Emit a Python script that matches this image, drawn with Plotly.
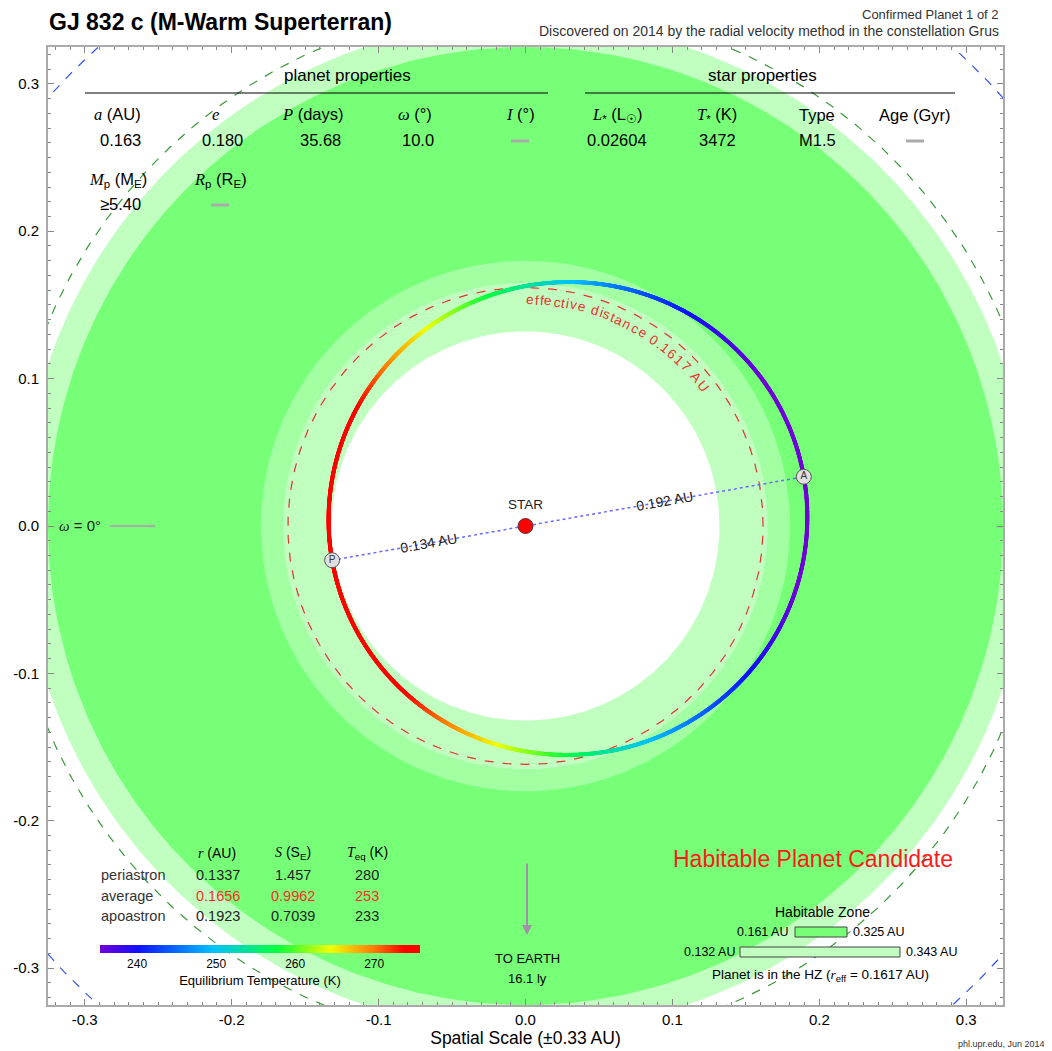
import numpy as np
import plotly.graph_objects as go

# ---------------- data ----------------
title_text = "GJ 832 c (M-Warm Superterran)"
subtitle_lines = ["Confirmed Planet 1 of 2",
                  "Discovered on 2014 by the radial velocity method in the constellation Grus"]
semi_major_au = 0.163
eccentricity = 0.180
period_days = 35.68
omega_deg = 10.0
planet_mass_min = 5.40
star_lum = 0.02604
star_teff = 3472
star_type = "M1.5"
hz_cons = [0.161, 0.325]
hz_opt = [0.132, 0.343]
hz_mid_ring = [0.165, 0.180]
r_effective = 0.1617
ring_green_dashed = 0.353
ring_blue_dashed = 0.436
earth_distance_ly = 16.1
teq_periastron = 280
row_names = ["periastron", "average", "apoastron"]
row_r = ["0.1337", "0.1656", "0.1923"]
row_S = ["1.457", "0.9962", "0.7039"]
row_T = ["280", "253", "233"]
cbar_min, cbar_max = 235.3, 275.8
cbar_ticks = [240, 250, 260, 270]
axis_ticks = [-0.3, -0.2, -0.1, 0.0, 0.1, 0.2, 0.3]
axis_ticklabels = ["-0.3", "-0.2", "-0.1", "0.0", "0.1", "0.2", "0.3"]
axis_range = [-0.325, 0.325]

# ---------------- styling ----------------
FONT = "Liberation Sans, Arial, sans-serif"
BRIGHT = "#78FF78"
MID = "#A2FFA2"
LIGHT = "#C0FFC0"
OFF = 8                      # page body margin
X0, X1, Y0, Y1 = 48, 1003, 47, 1005   # plot box in screen pixels
W, H = 1052 - OFF, 1051 - OFF
ML, MT = X0 - OFF, Y0 - OFF
MR, MB = W - (X1 - OFF), H - (Y1 - OFF)
PW, PH = X1 - X0, Y1 - Y0


def pp(px, py):
    return (px - X0) / PW, (Y1 - py) / PH


def ann(text, px, py, size=13, color="black", xanchor="center", **kw):
    x, y = pp(px, py)
    return dict(text=text, x=x, y=y, xref="paper", yref="paper", showarrow=False,
                xanchor=xanchor, yanchor="middle",
                font=dict(size=size, color=color, family=FONT), **kw)


def circle(r, n=500):
    t = np.linspace(0, 2 * np.pi, n)
    return r * np.cos(t), r * np.sin(t)


def it(s):
    return "<span style='font-family:Liberation Serif'><i>%s</i></span>" % s


fig = go.Figure()

# habitable zone disks (layered)
for r, col in [(hz_opt[1], LIGHT), (hz_cons[1], BRIGHT), (hz_mid_ring[1], MID),
               (hz_mid_ring[0], LIGHT), (hz_opt[0], "white")]:
    cx, cy = circle(r)
    fig.add_trace(go.Scatter(x=cx, y=cy, mode="lines", fill="toself", fillcolor=col,
                             line=dict(width=0), hoverinfo="skip", showlegend=False))

# dashed reference circles
for r, col in [(ring_green_dashed, "#3a9a3a"), (ring_blue_dashed, "#3355ee")]:
    cx, cy = circle(r, 800)
    fig.add_trace(go.Scatter(x=cx, y=cy, mode="lines", line=dict(color=col, width=1.2, dash="dash"),
                             hoverinfo="skip", showlegend=False))

# effective distance circle
cx, cy = circle(r_effective, 600)
fig.add_trace(go.Scatter(x=cx, y=cy, mode="lines", line=dict(color="#e83030", width=1.2, dash="dash"),
                         hoverinfo="skip", showlegend=False))

# orbit
peri_dir = np.deg2rad(omega_deg + 180.0)
nu = np.linspace(0, 2 * np.pi, 3000)
r_orb = semi_major_au * (1 - eccentricity ** 2) / (1 + eccentricity * np.cos(nu))
ox = r_orb * np.cos(nu + peri_dir)
oy = r_orb * np.sin(nu + peri_dir)
r_peri = semi_major_au * (1 - eccentricity)
r_apo = semi_major_au * (1 + eccentricity)
teq = teq_periastron * np.sqrt(r_peri / r_orb)
rainbow = [[0.0, "#7000d8"], [0.12, "#1010ff"], [0.35, "#00c0ff"], [0.55, "#00ff40"],
           [0.72, "#f0ff00"], [0.85, "#ff8000"], [0.95, "#ff0000"], [1.0, "#ff0000"]]

px_ = r_peri * np.cos(peri_dir)
py_ = r_peri * np.sin(peri_dir)
ax_ = r_apo * np.cos(peri_dir + np.pi)
ay_ = r_apo * np.sin(peri_dir + np.pi)

# line of apsides
fig.add_trace(go.Scatter(x=[px_, 0, ax_], y=[py_, 0, ay_], mode="lines",
                         line=dict(color="#6a6aff", width=1.5, dash="dot"),
                         hoverinfo="skip", showlegend=False))

cx0, cy0 = pp(260, 945)
fig.add_trace(go.Scatter(
    x=ox, y=oy, mode="markers", hoverinfo="skip", showlegend=False,
    marker=dict(size=4, color=teq, colorscale=rainbow, cmin=cbar_min, cmax=cbar_max,
                line=dict(width=0),
                colorbar=dict(orientation="h", x=cx0, xanchor="center", y=cy0, yanchor="top",
                              xpad=0, ypad=0,
                              len=320 / PW, lenmode="fraction", thickness=8, outlinewidth=0,
                              tickvals=cbar_ticks, ticks="",
                              tickfont=dict(size=12, family=FONT, color="black"),
                              title=dict(text="Equilibrium Temperature (K)", side="bottom",
                                         font=dict(size=13, family=FONT, color="black"))))))

# star
fig.add_trace(go.Scatter(x=[0], y=[0], mode="markers", hoverinfo="skip", showlegend=False,
                         marker=dict(size=15, color="#ff0000", line=dict(color="#553333", width=1))))

# P and A markers
fig.add_trace(go.Scatter(x=[px_, ax_], y=[py_, ay_], mode="markers+text", text=["P", "A"],
                         textposition="middle center", textfont=dict(size=10, color="#333", family=FONT),
                         hoverinfo="skip", showlegend=False,
                         marker=dict(size=15, color="#e0e0e0", line=dict(color="#555", width=1))))

# omega = 0 reference segment
fig.add_trace(go.Scatter(x=[-0.283, -0.252], y=[0, 0], mode="lines", line=dict(color="#aaaaaa", width=2),
                         hoverinfo="skip", showlegend=False))

annotations = []

# distance labels along the line of apsides
ang = -np.degrees(peri_dir + np.pi)
annotations.append(dict(text="%.3f AU" % r_peri, x=px_ / 2, y=py_ / 2, xref="x", yref="y", showarrow=False,
                        textangle=ang, font=dict(size=14, family=FONT, color="#222")))
annotations.append(dict(text="%.3f AU" % r_apo, x=ax_ / 2, y=ay_ / 2, xref="x", yref="y", showarrow=False,
                        textangle=ang, font=dict(size=14, family=FONT, color="#222")))
annotations.append(dict(text="STAR", x=0, y=0.008, xref="x", yref="y", showarrow=False, yanchor="bottom",
                        font=dict(size=13.5, family=FONT, color="#222")))

# curved text along effective distance circle
arc_txt = "effective distance %.4f AU" % r_effective
wtab = {"f": .278, "t": .278, "i": .222, "l": .222, " ": .278, ".": .278, "c": .5, "v": .5, "s": .5,
        "A": .667, "U": .722, "r": .333}
ws = np.array([wtab.get(ch, .556) for ch in arc_txt])
cum = np.cumsum(ws) - ws / 2
a0, a1, r_txt = 90.0, 36.5, 0.1535
for ch, c in zip(arc_txt, cum):
    if ch == " ":
        continue
    th = a0 - (a0 - a1) * c / ws.sum()
    annotations.append(dict(text=ch, x=r_txt * np.cos(np.deg2rad(th)), y=r_txt * np.sin(np.deg2rad(th)),
                            xref="x", yref="y", showarrow=False, textangle=90 - th,
                            font=dict(size=13.5, family=FONT, color="#e83030")))

# omega label
annotations.append(ann(it("ω") + " = 0°", 80, 525, size=15, color="#222"))

# title and header
annotations.append(ann("<b>%s</b>" % title_text, 47, 22, size=23, xanchor="left"))
annotations.append(ann(subtitle_lines[0], 1001, 14, size=13, color="#333", xanchor="right"))
annotations.append(ann(subtitle_lines[1], 1001, 31, size=14, color="#333", xanchor="right"))

# planet / star property tables
annotations.append(ann("planet properties", 347, 76, size=17))
annotations.append(ann("star properties", 762, 76, size=17))
hdrs = [(it("a") + " (AU)", 117), (it("e"), 215), (it("P") + " (days)", 313), (it("ω") + " (°)", 415),
        (it("I") + " (°)", 520), (it("L") + "<sub>*</sub> (L<sub>☉</sub>)", 617), (it("T") + "<sub>*</sub> (K)", 717),
        ("Type", 817), ("Age (Gyr)", 915)]
for t, x in hdrs:
    annotations.append(ann(t, x, 115, size=16.5))
vals = [("%.3f" % semi_major_au, 120), ("%.3f" % eccentricity, 222),
        ("%.2f" % period_days, 320), ("%.1f" % omega_deg, 418),
        ("%.5f" % star_lum, 617), ("%d" % star_teff, 717), (star_type, 817)]
for t, x in vals:
    annotations.append(ann(t, x, 140, size=16.5))
annotations.append(ann(it("M") + "<sub>p</sub> (M<sub>E</sub>)", 118, 180, size=16.5))
annotations.append(ann(it("R") + "<sub>p</sub> (R<sub>E</sub>)", 220, 180, size=16.5))
annotations.append(ann("≥%.2f" % planet_mass_min, 120, 204, size=16.5))

# orbit summary table
annotations.append(ann(it("r") + " (AU)", 217, 853, size=14))
annotations.append(ann(it("S") + " (S<sub>E</sub>)", 293, 853, size=14))
annotations.append(ann(it("T") + "<sub>eq</sub> (K)", 367, 853, size=14))
for i, name in enumerate(row_names):
    y = 875 + 20.5 * i
    col = "#ff2a2a" if i == 1 else "#222"
    annotations.append(ann(name, 99, y, size=14.5, color="#333", xanchor="left"))
    annotations.append(ann(row_r[i], 218, y, size=14.5, color=col))
    annotations.append(ann(row_S[i], 293, y, size=14.5, color=col))
    annotations.append(ann(row_T[i], 367, y, size=14.5, color=col))

# to earth arrow
hx, hy = pp(527, 935)
annotations.append(dict(text="", x=hx, y=hy, xref="paper", yref="paper", showarrow=True,
                        ax=0, ay=-73, arrowcolor="#a090a8", arrowwidth=2, arrowhead=2, arrowsize=1))
annotations.append(ann("TO EARTH", 527, 958, size=13))
annotations.append(ann("%.1f ly" % earth_distance_ly, 527, 978, size=13))

# habitability verdict and legend
annotations.append(ann("Habitable Planet Candidate", 813, 859, size=23, color="#ff1a1a"))
annotations.append(ann("Habitable Zone", 822, 912, size=14))
annotations.append(ann("%.3f AU" % hz_cons[0], 790, 932, size=12.5, xanchor="right"))
annotations.append(ann("%.3f AU" % hz_cons[1], 851, 932, size=12.5, xanchor="left"))
annotations.append(ann("%.3f AU" % hz_opt[0], 737, 952, size=12.5, xanchor="right"))
annotations.append(ann("%.3f AU" % hz_opt[1], 904, 952, size=12.5, xanchor="left"))
annotations.append(ann("Planet is in the HZ (" + it("r") + "<sub>eff</sub> = %.4f AU)" % r_effective,
                       820, 975, size=13.5))

# footer
annotations.append(ann("phl.upr.edu, Jun 2014", 1047, 1044, size=9, color="#333", xanchor="right"))

shapes = []


def pline(x0, y0, x1, y1, color="black", width=1):
    a, b = pp(x0, y0)
    c, d = pp(x1, y1)
    return dict(type="line", x0=a, y0=b, x1=c, y1=d, xref="paper", yref="paper",
                line=dict(color=color, width=width))


def prect(x0, y0, x1, y1, fill):
    a, b = pp(x0, y0)
    c, d = pp(x1, y1)
    return dict(type="rect", x0=a, y0=b, x1=c, y1=d, xref="paper", yref="paper",
                fillcolor=fill, line=dict(color="#444", width=1))


shapes.append(pline(85, 93, 548, 93))
shapes.append(pline(585, 93, 955, 93))
# grey dashes for unknown values
for dx, dy in [(520, 141), (915, 141), (220, 205)]:
    shapes.append(pline(dx - 9, dy, dx + 9, dy, color="#aaaaaa", width=3))
shapes.append(prect(795, 927, 847, 937, BRIGHT))
shapes.append(prect(740, 947, 900, 957, LIGHT))

axis_common = dict(range=axis_range, tickvals=axis_ticks, ticktext=axis_ticklabels, ticks="inside",
                   ticklen=6, tickcolor="#888", tickwidth=1,
                   minor=dict(dtick=0.01, tick0=0, ticks="inside", ticklen=3, tickcolor="#888"),
                   showline=True, linecolor="#aaa", linewidth=2, mirror="ticks", showgrid=False,
                   zeroline=False, automargin=False,
                   tickfont=dict(size=15, color="black", family=FONT))

fig.update_layout(
    width=W, height=H, autosize=False,
    margin=dict(l=ML, r=MR, t=MT, b=MB),
    paper_bgcolor="white", plot_bgcolor="white",
    font=dict(family=FONT, color="black"),
    showlegend=False,
    xaxis=dict(axis_common, title=dict(text="Spatial Scale (±0.33 AU)", font=dict(size=17.5, family=FONT),
                                       standoff=4)),
    yaxis=dict(axis_common, ticklabelstandoff=4),
    annotations=annotations,
    shapes=shapes,
)

fig.write_html("out.html")
